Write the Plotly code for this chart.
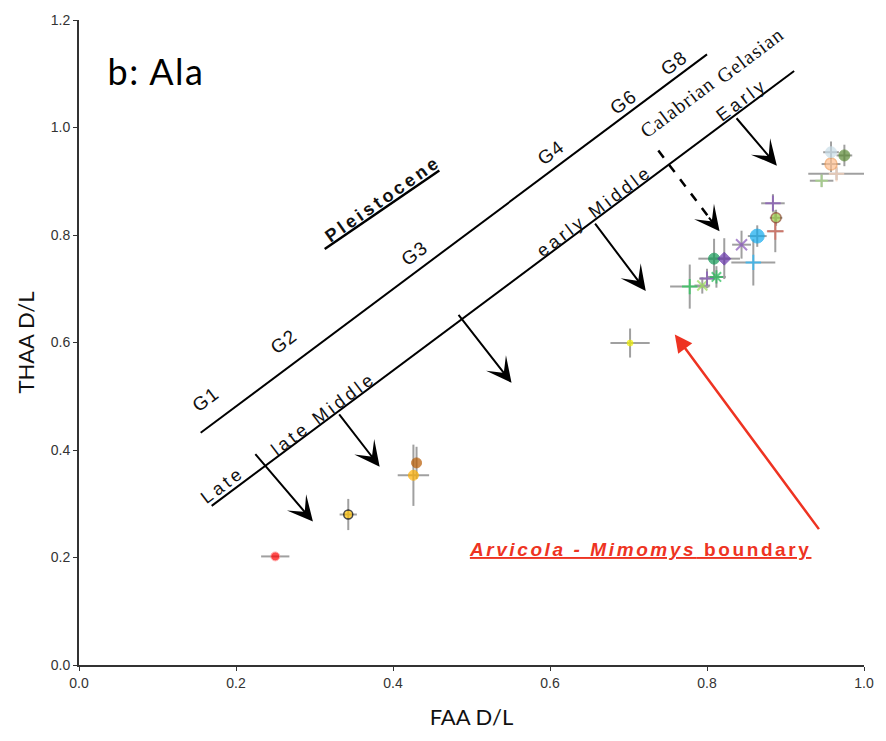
import json
import plotly.graph_objects as go

# ---- data ----
faa      = [0.250, 0.343, 0.430, 0.426, 0.702,
            0.778, 0.794, 0.800, 0.812, 0.809, 0.822, 0.859, 0.844, 0.864, 0.887, 0.888, 0.884,
            0.946, 0.965, 0.958, 0.958, 0.975]
thaa     = [0.202, 0.280, 0.376, 0.353, 0.599,
            0.704, 0.706, 0.719, 0.722, 0.756, 0.756, 0.749, 0.782, 0.798, 0.807, 0.832, 0.859,
            0.901, 0.914, 0.932, 0.954, 0.948]
faa_err  = [0.018, 0.011, 0.000, 0.020, 0.025,
            0.025, 0.010, 0.010, 0.012, 0.020, 0.020, 0.028, 0.012, 0.012, 0.010, 0.008, 0.015,
            0.015, 0.036, 0.012, 0.010, 0.010]
thaa_err = [0.000, 0.029, 0.030, 0.057, 0.027,
            0.041, 0.015, 0.018, 0.020, 0.037, 0.038, 0.043, 0.026, 0.020, 0.039, 0.015, 0.017,
            0.012, 0.012, 0.015, 0.020, 0.020]

# ---- styles ----
fill = ['#FF0000', '#FFC000', '#B85A00', '#FFB000', '#F2F200',
        '#22CC55', '#99DD55', '#8855BB', '#22BB55', '#119955', '#6633AA', '#22BBFF', '#8855BB',
        '#11AAEE', '#DD6655', '#99CC44', '#8855BB',
        '#AADD88', '#FFD8C0', '#FFC090', '#C8DDE8', '#5B8A35']
edge = ['#FF9999', '#000000', '#B85A00', '#FFB000', '#F2F200',
        '#22CC55', '#99DD55', '#8855BB', '#22BB55', '#119955', '#6633AA', '#22BBFF', '#8855BB',
        '#11AAEE', '#DD6655', '#884422', '#8855BB',
        '#AADD88', '#FFD8C0', '#F0A060', '#C8DDE8', '#5B8A35']
symb = ['circle', 'circle', 'circle', 'circle', 'circle',
        'cross-thin-open', 'x-thin-open', 'cross-thin-open', 'asterisk-open', 'circle', 'diamond',
        'cross-thin-open', 'x-thin-open', 'circle', 'cross-thin-open', 'circle', 'cross-thin-open',
        'cross-thin-open', 'cross-thin-open', 'circle', 'circle', 'circle']
size = [9, 9, 10, 10, 6,
        11, 10, 10, 11, 11, 10, 11, 11, 14, 12, 10, 11,
        9, 11, 12, 11, 11]
lw = [1, 1.5, 1, 1, 1,
      2, 2, 2, 2, 1, 1, 2, 2, 1, 2, 1.5, 2,
      2, 2, 1.5, 1, 1]

fig = go.Figure()
fig.add_trace(go.Scatter(
    x=faa, y=thaa, mode='markers',
    error_x=dict(type='data', array=faa_err, color='#A0A0A0', thickness=2, width=0),
    error_y=dict(type='data', array=thaa_err, color='#A0A0A0', thickness=2, width=0),
    marker=dict(color=fill, symbol=symb, size=size, line=dict(color=edge, width=lw)),
    showlegend=False, hoverinfo='skip'))

shapes = [
    dict(type='line', x0=0.155, y0=0.432, x1=0.800, y1=1.136, line=dict(color='black', width=2)),
    dict(type='line', x0=0.169, y0=0.296, x1=0.911, y1=1.105, line=dict(color='black', width=2)),
    dict(type='line', x0=0.313, y0=0.774, x1=0.459, y1=0.920, line=dict(color='black', width=2.5)),
    dict(type='line', x0=0.738, y0=0.957, x1=0.804, y1=0.830, line=dict(color='black', width=2.5, dash='dash')),
]
for s in shapes:
    s.update(xref='x', yref='y')

ann = []
spacing = {}
def arrow(x0, y0, x1, y1, color='black', width=2, head=3, hsize=2.1):
    ann.append(dict(x=x1, y=y1, ax=x0, ay=y0, xref='x', yref='y', axref='x', ayref='y',
                    text='', showarrow=True, arrowhead=head, arrowsize=hsize,
                    arrowwidth=width, arrowcolor=color, standoff=0))

arrow(0.223, 0.395, 0.298, 0.267)
arrow(0.330, 0.469, 0.383, 0.369)
arrow(0.482, 0.654, 0.551, 0.525)
arrow(0.656, 0.824, 0.722, 0.696)
arrow(0.801, 0.835, 0.816, 0.807)
arrow(0.836, 1.020, 0.889, 0.929)
arrow(0.944, 0.250, 0.759, 0.615, color='#EE3322', width=2.5, head=2, hsize=1.4)

ANG = -37
SANS = 'Liberation Sans, Arial, sans-serif'
SERIF = 'Liberation Serif, Times New Roman, serif'
def label(t, x, y, size=18, fam=SANS, ang=ANG, color='#111111', ls=0, **kw):
    spacing[len(ann)] = ls
    ann.append(dict(text=t, x=x, y=y, xref='x', yref='y', showarrow=False,
                    textangle=ang, xanchor='center', yanchor='middle',
                    font=dict(family=fam, size=size, color=color, **kw)))

label('G1', 0.161, 0.494, size=19, ls=1)
label('G2', 0.261, 0.602, size=19, ls=1)
label('G3', 0.427, 0.765, size=19, ls=1)
label('G4', 0.601, 0.954, size=19, ls=1)
label('G6', 0.693, 1.046, size=19, ls=1)
label('G8', 0.757, 1.120, size=19, ls=1)
label('Calabrian', 0.762, 1.039, size=20, fam=SERIF, ls=1)
label('Gelasian', 0.855, 1.135, size=20, fam=SERIF, ls=1)
label('Early', 0.844, 1.052, ls=3.5)
label('early Middle', 0.657, 0.844, ls=3.5)
label('late Middle', 0.311, 0.467, ls=3.5)
label('Late', 0.183, 0.335, ls=3.5)
label('<b>Pleistocene</b>', 0.387, 0.867, ang=-35, ls=3.3)
label('<b><i>Arvicola - Mimomys</i> boundary</b>', 0.715, 0.215, size=19, ang=0,
      color='#EE3322', ls=2.6, lineposition='under')

spacing[len(ann)] = 1.5
ann.append(dict(text='b: Ala', x=0.098, y=1.106, xref='x', yref='y', showarrow=False,
                xanchor='center', yanchor='middle',
                font=dict(family='Lato, Open Sans, sans-serif', size=36, color='black')))

TITLE_FONT = dict(family='Liberation Sans Narrow, Lato, sans-serif', size=22, color='#111111')
fig.update_layout(
    width=886, height=741,
    margin=dict(l=79, r=20, t=17, b=76),
    paper_bgcolor='white', plot_bgcolor='white',
    shapes=shapes, annotations=ann,
    xaxis=dict(range=[0, 1.0], tickvals=[0, 0.2, 0.4, 0.6, 0.8, 1.0],
               ticktext=['0.0', '0.2', '0.4', '0.6', '0.8', '1.0'],
               showgrid=False, zeroline=False, showline=True, linecolor='#333333', linewidth=2,
               ticks='outside', ticklen=4, tickcolor='#333333',
               tickfont=dict(family=SANS, size=14, color='#333333'),
               title=dict(text='FAA D/L', font=TITLE_FONT, standoff=20)),
    yaxis=dict(range=[0, 1.2], tickvals=[0, 0.2, 0.4, 0.6, 0.8, 1.0, 1.2],
               ticktext=['0.0', '0.2', '0.4', '0.6', '0.8', '1.0', '1.2'],
               showgrid=False, zeroline=False, showline=True, linecolor='#333333', linewidth=2,
               ticks='outside', ticklen=4, tickcolor='#333333',
               tickfont=dict(family=SANS, size=14, color='#333333'),
               title=dict(text='THAA D/L', font=TITLE_FONT, standoff=10)),
)

js = """
var gd = document.getElementById('{plot_id}');
var sp = SPACING;
function applySpacing() {
  gd.querySelectorAll('g.annotation').forEach(function (g) {
    var i = g.getAttribute('data-index');
    if (sp[i]) {
      var t = g.querySelector('text.annotation-text');
      if (t) { t.style.letterSpacing = sp[i] + 'px'; }
    }
  });
}
applySpacing();
gd.on('plotly_afterplot', applySpacing);
""".replace('SPACING', json.dumps({str(k): v for k, v in spacing.items()}))

fig.write_html('out.html', post_script=js)
